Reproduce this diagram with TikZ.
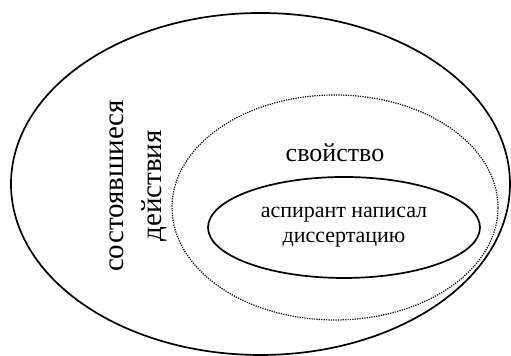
\documentclass[tikz,border=0pt]{standalone}
\usepackage{fontspec}
\setmainfont{Liberation Serif}
\usepackage{tikz}
\usetikzlibrary{shapes.geometric, positioning}

\begin{document}
\begin{tikzpicture}[
  x=0.5pt, y=0.5pt,
  oval/.style={ellipse, draw=black, inner sep=0pt},
  solidoval/.style={oval, line width=0.85pt},
  dotoval/.style={oval, line width=0.6pt, dash pattern=on 0.6pt off 0.6pt},
  biglbl/.style={font=\fontsize{14.5}{19}\selectfont, align=center, inner sep=0pt},
  midlbl/.style={font=\fontsize{13}{16}\selectfont, inner sep=0pt},
  smalllbl/.style={font=\fontsize{11}{12.5}\selectfont, align=center},
]
\useasboundingbox (0,0) rectangle (511,356);

% ============================ the three sets =================================
\node[solidoval, minimum width=249.5pt, minimum height=171pt] (actions) at (260.5,172) {};
\node[dotoval, minimum width=163pt, minimum height=112.5pt] (property) at (335,148.5) {};
\node[solidoval, minimum width=136pt, minimum height=50.5pt, smalllbl] (example) at (344,128.5)
  {аспирант написал\\диссертацию};

% ================================ labels =====================================
\node[biglbl, rotate=90] (actionslbl) at (138,170) {состоявшиеся\\действия};
\node[midlbl] (propertylbl) at (335,203) {свойство};
\end{tikzpicture}
\end{document}
